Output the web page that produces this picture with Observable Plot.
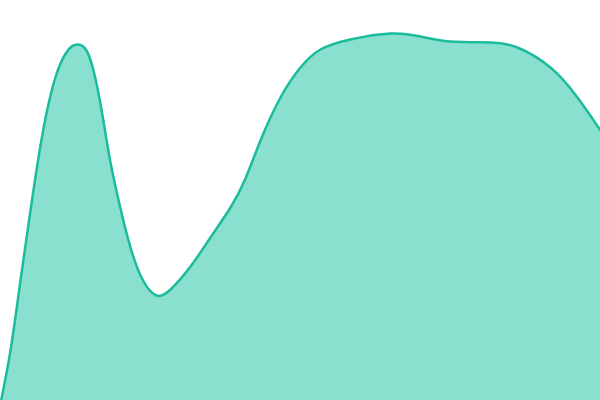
<!DOCTYPE html>
<html>
<head>
<meta charset="utf-8">
<script src="https://cdn.jsdelivr.net/npm/d3@7"></script>
<script src="https://cdn.jsdelivr.net/npm/@observablehq/plot@0.6"></script>
<style>
  html, body { margin: 0; padding: 0; background: #fff; }
  #chart svg { display: block; }
</style>
</head>
<body>
<div id="chart"></div>
<script>
const xs = [0, 10, 20, 30, 40, 50, 60, 70, 78, 86, 94, 102, 110, 120, 130, 142, 156, 170, 190, 210, 230, 245, 260, 280, 300, 320, 350, 390, 420, 450, 490, 517, 550, 577, 600];
const vals = [-3, 50, 120, 190, 255, 305, 337, 353, 356, 350, 326, 285, 238, 192, 153, 121, 105, 111, 134, 163, 193, 222, 260, 303, 333, 351, 361, 367, 364, 359, 358, 353, 333, 303, 270];

const data = xs.map((x, i) => ({x, v: vals[i]}));

const chart = Plot.plot({
  width: 600,
  height: 400,
  margin: 0,
  x: {domain: [0, 600], axis: null},
  y: {domain: [0, 400], axis: null},
  marks: [
    Plot.areaY(data, {x: "x", y1: -10, y2: "v", fill: "#8ae0cf", curve: "natural"}),
    Plot.lineY(data, {x: "x", y: "v", stroke: "#1abc9c", strokeWidth: 2.5, curve: "natural"})
  ]
});
document.getElementById("chart").appendChild(chart);
</script>
</body>
</html>
